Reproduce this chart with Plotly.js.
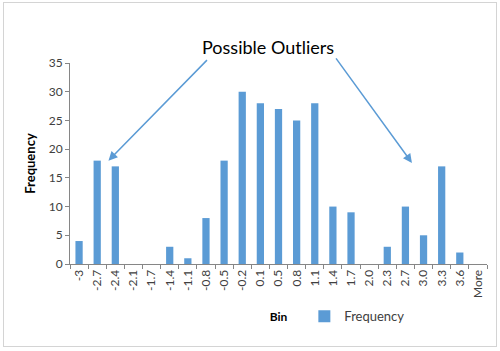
<!DOCTYPE html>
<html><head><meta charset="utf-8">
<script src="https://cdn.plot.ly/plotly-3.0.1.min.js"></script>
<style>
html,body{margin:0;padding:0;background:#fff;}
#wrap{position:relative;width:500px;height:351px;}
#chart{width:500px;height:351px;}
#frame{position:absolute;left:3px;top:2px;width:492px;height:343px;border:1px solid #d4d4d4;pointer-events:none;}
</style></head>
<body>
<div id="wrap"><div id="chart"></div><div id="frame"></div></div>
<script>
const bins = ["-3","-2.7","-2.4","-2.1","-1.7","-1.4","-1.1","-0.8","-0.5","-0.2","0.1","0.5","0.8","1.1","1.4","1.7","2.0","2.3","2.7","3.0","3.3","3.6","More"];
const frequency = [4,18,17,0,0,3,1,8,18,30,28,27,25,28,10,9,0,3,10,5,17,2,0];
const yTicks = [0,5,10,15,20,25,30,35];
const annotationText = "Possible Outliers";

const font = "Lato, 'Liberation Sans', sans-serif";
const trace = {
  type: "bar", x: bins, y: frequency, name: "Frequency",
  marker: {color: "#5b9bd5"}, showlegend: true
};
const layout = {
  width: 500, height: 351,
  margin: {l: 70, r: 13, t: 63, b: 87},
  paper_bgcolor: "rgba(0,0,0,0)", plot_bgcolor: "rgba(0,0,0,0)",
  font: {family: font, size: 12, color: "#404040"},
  bargap: 0.6,
  showlegend: true,
  legend: {orientation: "h", x: 0.562, y: -0.26, xanchor: "left", yanchor: "middle",
    font: {size: 13, color: "#404040"}, itemwidth: 30},
  xaxis: {
    type: "category", tickangle: -90, tickson: "boundaries", automargin: false,
    ticks: "outside", ticklen: 4, tickcolor: "#868686",
    showline: true, linecolor: "#868686", linewidth: 1,
    showgrid: false, zeroline: false,
    tickfont: {size: 12, color: "#404040"},
    title: {text: "<b>Bin</b>", font: {size: 12, color: "#000"}, standoff: 15}
  },
  yaxis: {
    range: [0, 35], tickvals: yTicks, ticks: "outside", ticklen: 4, tickcolor: "#868686",
    showline: true, linecolor: "#868686", linewidth: 1, automargin: false,
    showgrid: false, zeroline: false,
    tickfont: {size: 12, color: "#404040"},
    title: {text: "<b>Frequency</b>", font: {size: 13, color: "#000"}, standoff: 10}
  },
  annotations: [
    {xref: "paper", yref: "paper", x: 0.474, y: 1.0, yanchor: "bottom", yshift: 3,
     text: annotationText, showarrow: false, font: {size: 18, color: "#000"}},
    {x: 1.62, y: 18, xref: "x", yref: "y", text: "", showarrow: true,
     arrowhead: 2, arrowsize: 1.2, arrowwidth: 1.5, arrowcolor: "#5b9bd5", ax: 100, ay: -102},
    {x: 18.36, y: 17.6, xref: "x", yref: "y", text: "", showarrow: true,
     arrowhead: 2, arrowsize: 1.2, arrowwidth: 1.5, arrowcolor: "#5b9bd5", ax: -77, ay: -106}
  ]
};
Plotly.newPlot("chart", [trace], layout, {displayModeBar: false, staticPlot: true});
</script>
</body></html>
